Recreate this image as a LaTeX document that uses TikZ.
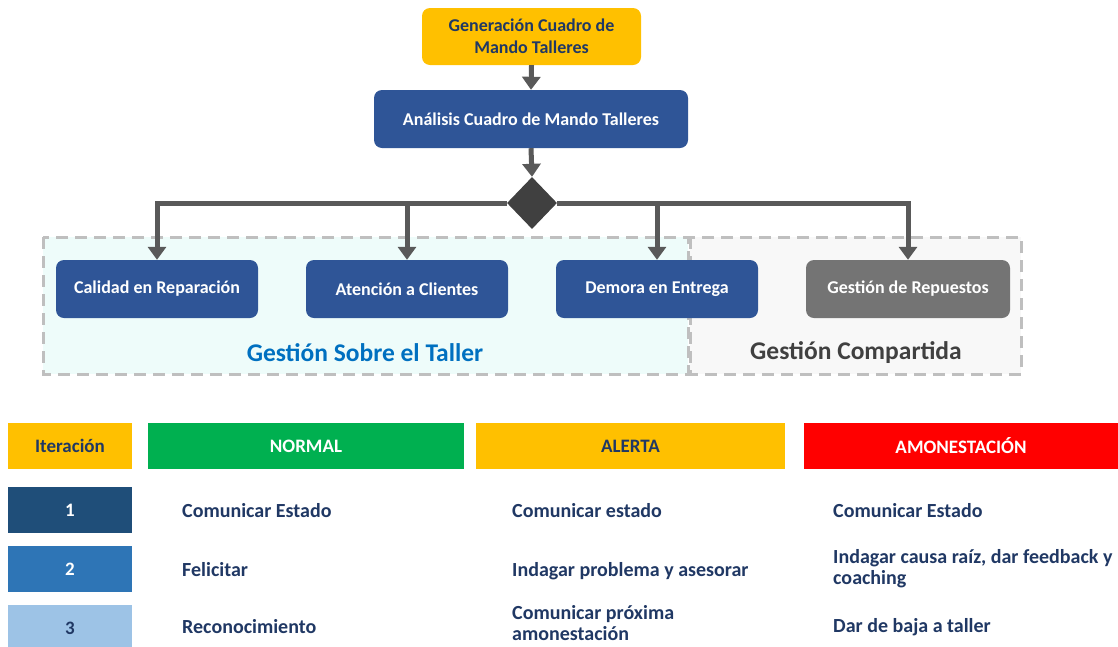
\documentclass[tikz,border=0pt]{standalone}
\usepackage{fontspec}
\setmainfont{Carlito}
\usetikzlibrary{arrows.meta,shapes.geometric}
\definecolor{gold}{HTML}{FFC000}
\definecolor{navy}{HTML}{203864}
\definecolor{boxblue}{HTML}{2F5597}
\definecolor{boxgray}{HTML}{747474}
\definecolor{linegray}{HTML}{595959}
\definecolor{diagray}{HTML}{404040}
\definecolor{dashgray}{HTML}{BFBFBF}
\definecolor{zonecyan}{HTML}{EEFCFA}
\definecolor{zonegray}{HTML}{F8F8F8}
\definecolor{titleblue}{HTML}{0070C0}
\definecolor{okgreen}{HTML}{00B050}
\definecolor{alarmred}{HTML}{FF0000}
\definecolor{itone}{HTML}{1F4E79}
\definecolor{ittwo}{HTML}{2E75B6}
\definecolor{itthree}{HTML}{9DC3E6}
\tikzset{
  flowbox/.style={rounded corners=8pt, inner sep=0pt, align=center,
    font=\fontsize{18}{22}\selectfont\bfseries},
  link/.style={draw=linegray, line width=5pt,
    -{Triangle[width=18pt,length=13pt]}},
  zone/.style={draw=dashgray, line width=3pt, dash pattern=on 12pt off 7pt},
  cell/.style={inner sep=0pt, minimum height=46pt, align=center,
    font=\fontsize{19}{22}\selectfont\bfseries},
  entry/.style={anchor=west, inner sep=0pt, align=left, text=navy,
    font=\fontsize{20}{21}\selectfont\bfseries}
}
\begin{document}
\begin{tikzpicture}[x=1pt,y=-1pt]
\useasboundingbox (0,0) rectangle (1118,646);
\fill[white] (0,0) rectangle (1118,646);

% management zones
\fill[zonecyan] (43,237) rectangle (688,374);
\fill[zonegray] (690,237) rectangle (1021,374);
\draw[zone] (43,237) rectangle (688,374);
\draw[zone] (690,237) rectangle (1021,374);
\node[text=titleblue, font=\fontsize{25.5}{28}\selectfont\bfseries] (zsobre) at (365,353) {Gestión Sobre el Taller};
\node[text=diagray, font=\fontsize{25.5}{28}\selectfont\bfseries] (zcomp) at (856,353) {Gestión Compartida};

% flow
\node[flowbox, fill=gold, text=navy, minimum width=219pt, minimum height=57pt] (gen) at (531.5,36.5) {Generación Cuadro de\\Mando Talleres};
\node[flowbox, fill=boxblue, text=white, minimum width=314pt, minimum height=58pt] (ana) at (531,119) {Análisis Cuadro de Mando Talleres};
\node[diamond, fill=diagray, inner sep=0pt, minimum width=50pt, minimum height=52pt] (dec) at (532,203) {};

\node[flowbox, fill=boxblue, text=white, minimum width=202pt, minimum height=58pt] (cal) at (157,289) {Calidad en Reparación};
\node[flowbox, fill=boxblue, text=white, minimum width=202pt, minimum height=58pt] (ate) at (407,289) {Atención a Clientes};
\node[flowbox, fill=boxblue, text=white, minimum width=202pt, minimum height=58pt] (dem) at (657,289) {Demora en Entrega};
\node[flowbox, fill=boxgray, text=white, minimum width=204pt, minimum height=58pt] (rep) at (908,289) {Gestión de Repuestos};

\draw[link] (gen.south) -- (ana.north);
\draw[link] (ana.south) -- (dec.north);
\draw[link] (dec.west) -| (cal.north);
\draw[link] (dec.east) -| (rep.north);
\draw[link] (ate.north |- dec.center) -- (ate.north);
\draw[link] (dem.north |- dec.center) -- (dem.north);

% iteration table
\node[cell, fill=gold, text=navy, minimum width=124pt] (hit) at (70,446) {Iteración};
\node[cell, fill=okgreen, text=white, minimum width=316pt] (hnor) at (306,446) {NORMAL};
\node[cell, fill=gold, text=navy, minimum width=309pt] (hale) at (630.5,446) {ALERTA};
\node[cell, fill=alarmred, text=white, minimum width=314pt] (hamo) at (961,446) {AMONESTACIÓN};

\node[cell, fill=itone, text=white, minimum width=124pt] (ione) at (70,510) {1};
\node[cell, fill=ittwo, text=white, minimum width=124pt] (itwo) at (70,569) {2};
\node[cell, fill=itthree, text=navy, minimum width=124pt] (ithree) at (70,628) {3};

\node[entry] (n1) at (182,511) {Comunicar Estado};
\node[entry] (n2) at (182,570) {Felicitar};
\node[entry] (n3) at (182,627) {Reconocimiento};

\node[entry] (a1) at (512,511) {Comunicar estado};
\node[entry] (a2) at (512,571) {Indagar problema y asesorar};
\node[entry] (a3) at (512,623) {Comunicar próxima\\amonestación};

\node[entry] (m1) at (833,511) {Comunicar Estado};
\node[entry] (m2) at (833,569) {Indagar causa raíz, dar feedback y\\coaching};
\node[entry] (m3) at (833,627) {Dar de baja a taller};
\end{tikzpicture}
\end{document}
